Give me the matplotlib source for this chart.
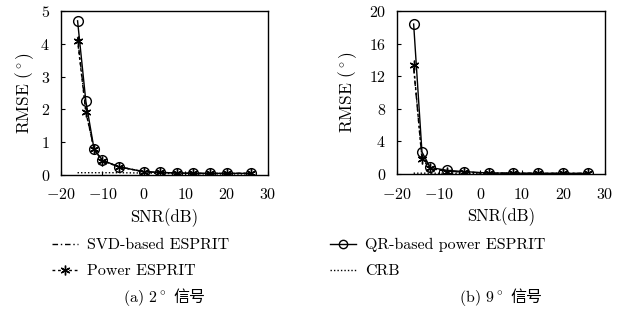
import matplotlib
matplotlib.use("Agg")
import matplotlib.pyplot as plt
from matplotlib.lines import Line2D
from matplotlib.offsetbox import TextArea, HPacker, AnchoredOffsetbox

plt.rcParams['font.family'] = ['cmr10', 'Noto Sans CJK SC']
plt.rcParams['mathtext.fontset'] = 'cm'
plt.rcParams['axes.formatter.use_mathtext'] = True
plt.rcParams['axes.unicode_minus'] = True

# ---- data: panel (a) 2 degree signals ----
snr_a = [-16, -14, -12, -10, -6, 0, 4, 8, 12, 16, 20, 26]
svd_a = [4.2, 1.95, 0.78, 0.44, 0.25, 0.1, 0.08, 0.06, 0.05, 0.05, 0.05, 0.05]
power_a = [4.1, 1.92, 0.78, 0.43, 0.25, 0.1, 0.08, 0.06, 0.05, 0.05, 0.05, 0.05]
qr_a = [4.7, 2.25, 0.78, 0.45, 0.25, 0.1, 0.08, 0.06, 0.05, 0.05, 0.05, 0.05]
crb_a = [0.07, 0.07, 0.07, 0.07, 0.07, 0.06, 0.05, 0.04, 0.04, 0.03, 0.03, 0.03]

# ---- data: panel (b) 9 degree signals ----
snr_b = [-16, -14, -12, -8, -4, 2, 8, 14, 20, 26]
svd_b = [13.0, 2.0, 0.7, 0.35, 0.25, 0.1, 0.1, 0.08, 0.08, 0.07]
power_b = [13.4, 1.8, 0.7, 0.3, 0.25, 0.1, 0.1, 0.08, 0.08, 0.07]
qr_b = [18.4, 2.7, 0.8, 0.45, 0.3, 0.12, 0.1, 0.08, 0.08, 0.07]
crb_b = [0.1, 0.1, 0.1, 0.09, 0.08, 0.07, 0.06, 0.05, 0.05, 0.05]

xticks = [-20, -10, 0, 10, 20, 30]
yticks_a = [0, 1, 2, 3, 4, 5]
yticks_b = [0, 4, 8, 12, 16, 20]

labels = ['SVD-based ESPRIT', 'Power ESPRIT', 'QR-based power ESPRIT', 'CRB']
caption_head = ['(a) 2$^\\circ$', '(b) 9$^\\circ$']
caption_tail = ['信号', '信号']

FS = 11.5
fig = plt.figure(figsize=(6.3, 3.16), dpi=100)
ax_a = fig.add_axes([61/630, 1-175/316, 207/630, 164/316])
ax_b = fig.add_axes([397/630, 1-174/316, 208/630, 163/316])

star = (6, 2, 0)
dash_svd = (0, (4, 2, 1, 2))
dash_pow = (0, (2, 2))
dot_crb = (0, (1, 1.5))

def draw(ax, snr, svd, pw, qr, crb, yticks, ylab_x):
    ax.plot(snr, crb, color='k', lw=1.0, linestyle=dot_crb)
    ax.plot(snr, svd, color='k', lw=1.0, linestyle=dash_svd)
    ax.plot(snr, pw, color='k', lw=1.0, linestyle=dash_pow, marker=star, ms=7, mew=1.0)
    ax.plot(snr, qr, color='k', lw=1.0, linestyle='-', marker='o', ms=7,
            mfc='none', mew=1.0)
    ax.set_xlim(-20, 30)
    ax.set_ylim(yticks[0], yticks[-1])
    ax.set_xticks(xticks)
    ax.set_yticks(yticks)
    ax.tick_params(direction='in', length=3, labelsize=FS, top=False, right=False)
    ax.tick_params(axis='x', pad=9)
    ax.tick_params(axis='y', pad=8)
    ax.set_xlabel('SNR(dB)', fontsize=FS + 0.5, labelpad=4)
    ax.set_ylabel('RMSE $(^\\circ)$', fontsize=FS + 1)
    ax.yaxis.set_label_coords(ylab_x, 0.5)
    for s in ax.spines.values():
        s.set_linewidth(1.0)

draw(ax_a, snr_a, svd_a, power_a, qr_a, crb_a, yticks_a, -0.12)
draw(ax_b, snr_b, svd_b, power_b, qr_b, crb_b, yticks_b, -0.185)

h_svd = Line2D([], [], color='k', lw=1.0, linestyle=dash_svd)
h_pow = Line2D([], [], color='k', lw=1.0, linestyle=dash_pow, marker=star, ms=7)
h_qr = Line2D([], [], color='k', lw=1.0, linestyle='-', marker='o', ms=6, mfc='none')
h_crb = Line2D([], [], color='k', lw=1.0, linestyle=dot_crb)

common = dict(loc='upper left', frameon=False, fontsize=FS,
              handlelength=1.6, handletextpad=0.6, labelspacing=0.75,
              borderpad=0, borderaxespad=0)
fig.legend([h_svd, h_pow], labels[:2], bbox_to_anchor=(52/630, 1-238/316), **common)
fig.legend([h_qr, h_crb], labels[2:], bbox_to_anchor=(330/630, 1-238/316), **common)

for head, tail, xc in zip(caption_head, caption_tail, [164, 501]):
    t1 = TextArea(head, textprops=dict(fontsize=FS, family='cmr10'))
    t2 = TextArea(tail, textprops=dict(fontsize=FS, family='Noto Sans CJK SC'))
    pack = HPacker(children=[t1, t2], sep=5, pad=0, align='baseline')
    box = AnchoredOffsetbox(loc='center', child=pack, pad=0, frameon=False,
                            bbox_to_anchor=(xc/630, 1-298/316),
                            bbox_transform=fig.transFigure, borderpad=0)
    fig.add_artist(box)

fig.savefig('out.png', dpi=100)
